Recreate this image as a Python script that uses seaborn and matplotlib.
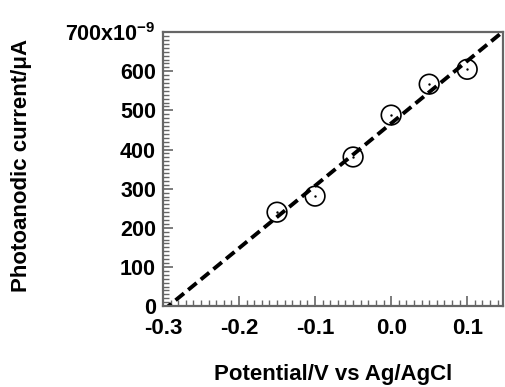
import numpy as np
import pandas as pd
import seaborn as sns
import matplotlib.pyplot as plt
from matplotlib.ticker import MultipleLocator

# data (current in units of 1e-9)
potential = [-0.15, -0.10, -0.05, 0.00, 0.05, 0.10]
current = [240, 281, 381, 488, 567, 605]
y_ticks = [0, 100, 200, 300, 400, 500, 600, 700]
y_tick_labels = ['0', '100', '200', '300', '400', '500', '600', '700x10$^{-9}$']
x_ticks = [-0.3, -0.2, -0.1, 0.0, 0.1]
x_tick_labels = ['-0.3', '-0.2', '-0.1', '0.0', '0.1']


def main():
    sns.set_style('ticks')
    plt.rcParams['font.family'] = ['Liberation Sans', 'DejaVu Sans']
    plt.rcParams['mathtext.fontset'] = 'custom'
    plt.rcParams['mathtext.rm'] = 'Liberation Sans:bold'
    plt.rcParams['mathtext.default'] = 'rm'
    plt.rcParams['text.color'] = 'black'
    plt.rcParams['xtick.labelcolor'] = 'black'
    plt.rcParams['ytick.labelcolor'] = 'black'
    plt.rcParams['axes.labelcolor'] = 'black'

    df = pd.DataFrame({'potential': potential, 'current': current})

    fig = plt.figure(figsize=(5.06, 3.87), dpi=100)
    ax = fig.add_axes([0.322, 0.209, 0.672, 0.708])
    ax.set_xlim(-0.3, 0.147)
    ax.set_ylim(0, 700)

    # linear fit extended across the axes
    sns.regplot(data=df, x='potential', y='current', ax=ax, ci=None,
                truncate=False, scatter=False,
                line_kws={'color': 'black', 'lw': 2.8, 'ls': (0, (2.8, 1.4))})

    sns.scatterplot(data=df, x='potential', y='current', ax=ax, marker='o',
                    s=200, facecolor='none', edgecolor='black', linewidth=1.2,
                    zorder=3)
    sns.scatterplot(data=df, x='potential', y='current', ax=ax, marker='o',
                    s=3, color='black', linewidth=0, zorder=4)

    ax.set_xlim(-0.3, 0.147)
    ax.set_ylim(0, 700)

    ax.set_xticks(x_ticks)
    ax.set_xticklabels(x_tick_labels)
    ax.set_yticks(y_ticks)
    ax.set_yticklabels(y_tick_labels)
    ax.xaxis.set_minor_locator(MultipleLocator(0.01))
    ax.yaxis.set_minor_locator(MultipleLocator(10))

    for side in ['left', 'bottom', 'right', 'top']:
        ax.spines[side].set_color('#666666')
        ax.spines[side].set_linewidth(1.6)
    ax.tick_params(which='major', direction='in', length=7, width=1.2,
                   color='#666666', labelsize=16, pad=5)
    ax.tick_params(axis='y', which='major', labelsize=15.5)
    ax.tick_params(axis='x', which='major', pad=8.5)
    ax.tick_params(which='minor', direction='in', length=4, width=1.0,
                   color='#666666')
    for lab in ax.get_xticklabels() + ax.get_yticklabels():
        lab.set_fontweight('bold')

    ax.set_xlabel('Potential/V vs Ag/AgCl', fontsize=16, fontweight='bold')
    ax.set_ylabel('Photoanodic current/\u03bcA', fontsize=16,
                  fontweight='bold')
    ax.xaxis.set_label_coords(0.5, -0.21)
    ax.yaxis.set_label_coords(-0.385, 0.513)

    fig.savefig('out.png', dpi=100)


if __name__ == "__main__":
    main()
